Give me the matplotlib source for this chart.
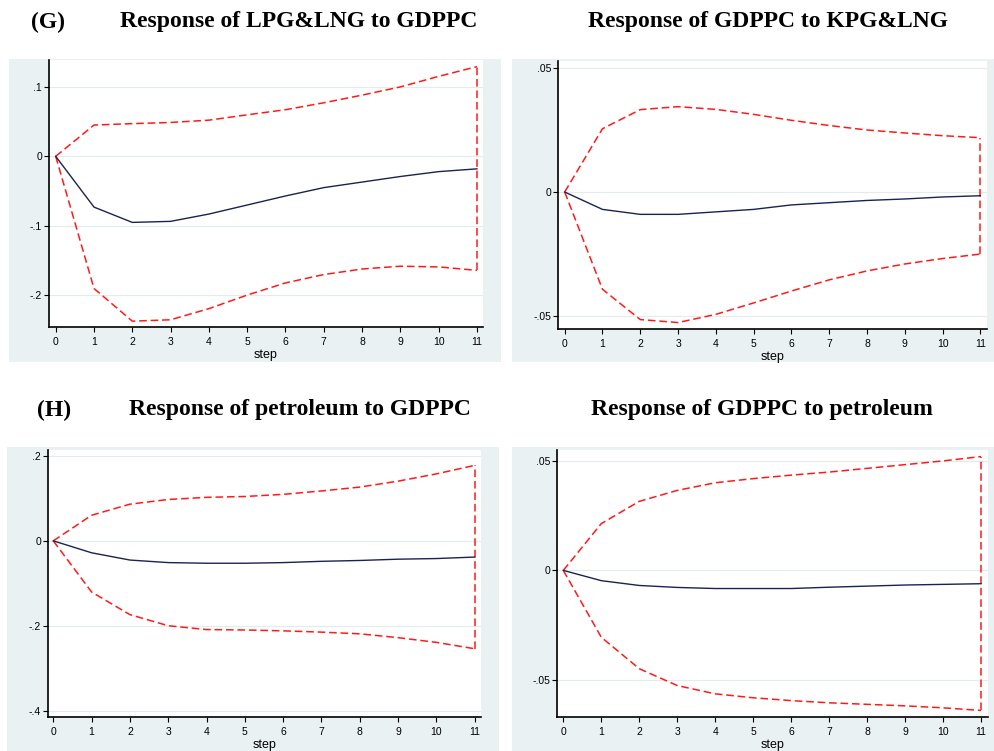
import matplotlib
matplotlib.use('Agg')
import matplotlib.pyplot as plt

W, H = 995, 751

steps = list(range(12))

# (G) LPG&LNG -> GDPPC
g1_irf = [0, -0.073, -0.095, -0.0935, -0.083, -0.070, -0.057, -0.045, -0.037, -0.029, -0.022, -0.018]
g1_hi = [0, 0.045, 0.047, 0.0487, 0.052, 0.0597, 0.067, 0.077, 0.088, 0.0998, 0.115, 0.129]
g1_lo = [0, -0.190, -0.237, -0.235, -0.219, -0.1995, -0.182, -0.170, -0.162, -0.158, -0.159, -0.164]

# GDPPC -> KPG&LNG
g2_irf = [0, -0.007, -0.009, -0.009, -0.008, -0.007, -0.0052, -0.0043, -0.0034, -0.0028, -0.002, -0.0015]
g2_hi = [0, 0.0255, 0.0332, 0.0344, 0.0333, 0.0313, 0.0289, 0.0268, 0.0250, 0.0238, 0.0227, 0.0219]
g2_lo = [0, -0.0392, -0.0514, -0.0526, -0.0493, -0.0447, -0.0399, -0.0354, -0.0318, -0.0290, -0.0268, -0.0250]

# (H) petroleum -> GDPPC
h1_irf = [0, -0.028, -0.045, -0.051, -0.0525, -0.0525, -0.051, -0.048, -0.046, -0.043, -0.0415, -0.038]
h1_hi = [0, 0.060, 0.086, 0.097, 0.102, 0.104, 0.109, 0.117, 0.126, 0.140, 0.157, 0.177]
h1_lo = [0, -0.120, -0.173, -0.199, -0.208, -0.209, -0.211, -0.214, -0.218, -0.227, -0.238, -0.253]

# GDPPC -> petroleum
h2_irf = [0, -0.0047, -0.0069, -0.0078, -0.0083, -0.0083, -0.0083, -0.0077, -0.0072, -0.0067, -0.0064, -0.0061]
h2_hi = [0, 0.0214, 0.0316, 0.0366, 0.0401, 0.0420, 0.0436, 0.0450, 0.0467, 0.0484, 0.0501, 0.0521]
h2_lo = [0, -0.0306, -0.0450, -0.0527, -0.0565, -0.0583, -0.0596, -0.0606, -0.0613, -0.0620, -0.0629, -0.0641]

yt_g1 = [-0.2, -0.1, 0, 0.1]
yl_g1 = ['-.2', '-.1', '0', '.1']
yt_g2 = [-0.05, 0, 0.05]
yl_g2 = ['-.05', '0', '.05']
yt_h1 = [-0.4, -0.2, 0, 0.2]
yl_h1 = ['-.4', '-.2', '0', '.2']
yt_h2 = [-0.05, 0, 0.05]
yl_h2 = ['-.05', '0', '.05']

BG = '#eaf1f3'
NAVY = '#1a2350'
RED = '#ff1a1a'

fig = plt.figure(figsize=(W / 100, H / 100), dpi=100)


def box(x0, y0, x1, y1):
    # pixel box (top-left origin) -> figure fraction
    return [x0 / W, 1 - y1 / H, (x1 - x0) / W, (y1 - y0) / H]


def panel(bg, ax_px, xlim, ylim, irf, hi, lo, yt, yl):
    back = fig.add_axes(box(*bg))
    back.set_facecolor(BG)
    back.set_xticks([])
    back.set_yticks([])
    for s in back.spines.values():
        s.set_visible(False)
    ax = fig.add_axes(box(*ax_px))
    ax.set_facecolor('white')
    ax.plot(steps, irf, color=NAVY, lw=1.0, zorder=3)
    # band drawn as closed outline like stata's rarea
    ax.plot(steps, hi, color=RED, lw=1.1, ls=(0, (5, 2.5)), zorder=2)
    ax.plot(steps, lo, color=RED, lw=1.1, ls=(0, (5, 2.5)), zorder=2)
    ax.plot([steps[-1], steps[-1]], [lo[-1], hi[-1]], color=RED, lw=1.1, ls=(0, (5, 2.5)), zorder=2)
    ax.set_xlim(*xlim)
    ax.set_ylim(*ylim)
    ax.set_xticks(steps)
    ax.set_xticklabels([str(s) for s in steps], fontsize=7.5, family='Liberation Sans')
    ax.set_yticks(yt)
    ax.set_yticklabels(yl, fontsize=7.5, family='Liberation Sans')
    ax.tick_params(axis='x', length=3.5, width=0.8, pad=4, color='black')
    ax.tick_params(axis='y', length=3.5, width=0.8, pad=1.5, color='black')
    for y in yt:
        ax.axhline(y, color='#e3eced', lw=0.8, zorder=1)
    ax.spines['top'].set_visible(False)
    ax.spines['right'].set_visible(False)
    ax.spines['left'].set_linewidth(1.2)
    ax.spines['bottom'].set_linewidth(1.2)
    ax.set_xlabel('step', fontsize=9, family='Liberation Sans', labelpad=1)
    return ax


panel((9, 59, 501, 362), (49, 60, 483, 327), (-0.175, 11.157), (-0.2454, 0.1385),
      g1_irf, g1_hi, g1_lo, yt_g1, yl_g1)
panel((512, 59, 995, 362), (558, 61, 987, 329), (-0.177, 11.177), (-0.0552, 0.0528),
      g2_irf, g2_hi, g2_lo, yt_g2, yl_g2)
panel((7, 447, 499, 751), (48, 450, 481, 717), (-0.138, 11.164), (-0.413, 0.213),
      h1_irf, h1_hi, h1_lo, yt_h1, yl_h1)
panel((512, 447, 995, 751), (557, 450, 988, 717), (-0.166, 11.184), (-0.0671, 0.0551),
      h2_irf, h2_hi, h2_lo, yt_h2, yl_h2)

tkw = dict(fontsize=17, fontweight='bold', family='Liberation Serif', va='center')
fig.text(48 / W, 1 - 22 / H, '(G)', ha='center', **tkw)
fig.text(299 / W, 1 - 22 / H, 'Response of LPG&LNG to GDPPC', ha='center', **tkw)
fig.text(768 / W, 1 - 22 / H, 'Response of GDPPC to KPG&LNG', ha='center', **tkw)
fig.text(54 / W, 1 - 410 / H, '(H)', ha='center', **tkw)
fig.text(300 / W, 1 - 410 / H, 'Response of petroleum to GDPPC', ha='center', **tkw)
fig.text(762 / W, 1 - 410 / H, 'Response of GDPPC to petroleum', ha='center', **tkw)

plt.savefig('out.png', dpi=100)
